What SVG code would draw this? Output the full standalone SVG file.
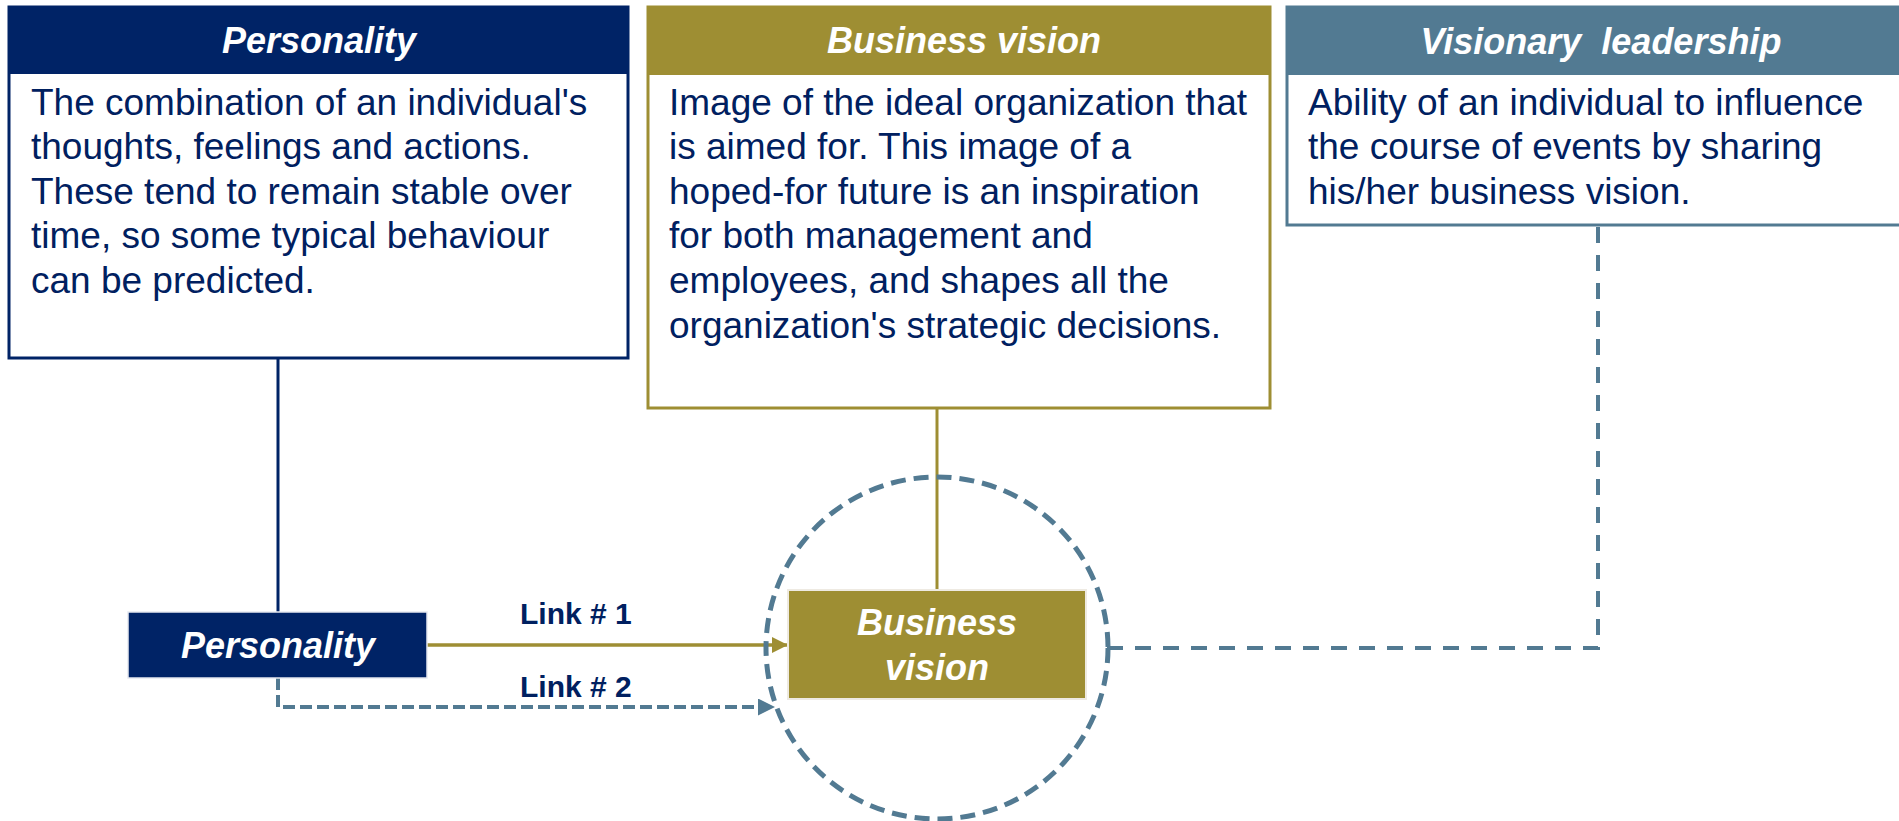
<svg xmlns="http://www.w3.org/2000/svg" width="1899" height="821" viewBox="0 0 1899 821">
<defs>
<style>
.t{font-family:"Liberation Sans",Arial,sans-serif;}
.head{font-size:36px;font-weight:bold;font-style:italic;fill:#ffffff;text-anchor:middle;}
.body{font-size:37px;fill:#002060;}
.lnk{font-size:30px;font-weight:bold;fill:#002060;}
.dash{fill:none;stroke:#527A92;stroke-width:4;}
</style>
<marker id="agold" viewBox="0 0 16 16" refX="16" refY="8" markerWidth="16" markerHeight="16" markerUnits="userSpaceOnUse" orient="auto">
<path d="M0,0 L16,8 L0,16 Z" fill="#9E8E33"/>
</marker>
<marker id="ablue" viewBox="0 0 16 16" refX="16" refY="8" markerWidth="17" markerHeight="17" markerUnits="userSpaceOnUse" orient="auto">
<path d="M0,0 L16,8 L0,16 Z" fill="#527A92"/>
</marker>
</defs>
<rect width="1899" height="821" fill="#ffffff"/>

<g id="connectors">
<line x1="278" y1="358" x2="278" y2="612" stroke="#002366" stroke-width="3"/>
<line x1="937" y1="408" x2="937" y2="590" stroke="#9E8E33" stroke-width="3"/>
<line x1="427" y1="645" x2="788" y2="645" stroke="#9E8E33" stroke-width="3.5" marker-end="url(#agold)"/>
<path d="M278,678 V707 H775" class="dash" stroke-dasharray="12 5" marker-end="url(#ablue)"/>
<path d="M1598,227 V648 H1107" class="dash" stroke-dasharray="16 12"/>
</g>

<g id="def-personality">
<rect x="9" y="7" width="619" height="351" fill="#ffffff" stroke="#002366" stroke-width="3"/>
<rect x="9" y="7" width="619" height="67" fill="#002366"/>
<text class="t head" x="319" y="53">Personality</text>
<text class="t body" x="31" y="115">The combination of an individual's</text>
<text class="t body" x="31" y="159">thoughts, feelings and actions.</text>
<text class="t body" x="31" y="204">These tend to remain stable over</text>
<text class="t body" x="31" y="248">time, so some typical behaviour</text>
<text class="t body" x="31" y="293">can be predicted.</text>
</g>

<g id="def-business-vision">
<rect x="648" y="7" width="622" height="401" fill="#ffffff" stroke="#9E8E33" stroke-width="3"/>
<rect x="648" y="7" width="622" height="68" fill="#9E8E33"/>
<text class="t head" x="964" y="53">Business vision</text>
<text class="t body" x="669" y="115">Image of the ideal organization that</text>
<text class="t body" x="669" y="159">is aimed for. This image of a</text>
<text class="t body" x="669" y="204">hoped-for future is an inspiration</text>
<text class="t body" x="669" y="248">for both management and</text>
<text class="t body" x="669" y="293">employees, and shapes all the</text>
<text class="t body" x="669" y="338">organization's strategic decisions.</text>
</g>

<g id="def-visionary-leadership">
<rect x="1287" y="7" width="630" height="218" fill="#ffffff" stroke="#527A92" stroke-width="3"/>
<rect x="1287" y="7" width="630" height="68" fill="#527A92"/>
<text class="t head" x="1601" y="54" xml:space="preserve">Visionary  leadership</text>
<text class="t body" x="1308" y="115">Ability of an individual to influence</text>
<text class="t body" x="1308" y="159">the course of events by sharing</text>
<text class="t body" x="1308" y="204">his/her business vision.</text>
</g>

<g id="circle">
<circle cx="937" cy="648" r="171" fill="none" stroke="#527A92" stroke-width="5" stroke-dasharray="15 8"/>
</g>

<g id="node-personality">
<rect x="128" y="612" width="299" height="66" fill="#002366" stroke="#E6E9F0" stroke-width="1.5"/>
<text class="t head" x="278" y="658">Personality</text>
</g>

<g id="node-business-vision">
<rect x="788" y="590" width="298" height="109" fill="#9E8E33" stroke="#EEEAE2" stroke-width="2"/>
<text class="t head" x="937" y="635">Business</text>
<text class="t head" x="937" y="680">vision</text>
</g>

<g id="labels">
<text class="t lnk" x="520" y="624">Link # 1</text>
<text class="t lnk" x="520" y="697">Link # 2</text>
</g>
</svg>
